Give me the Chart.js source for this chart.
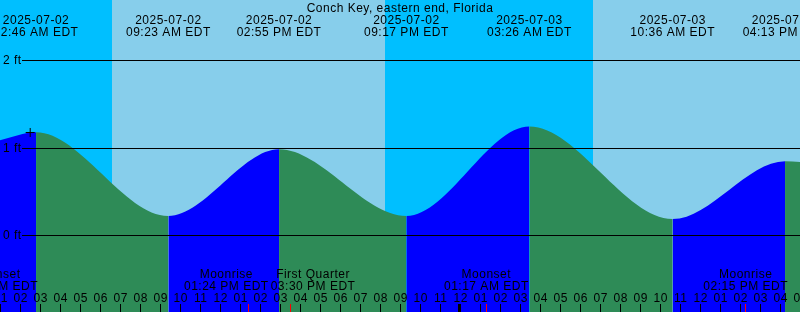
<!DOCTYPE html>
<html>
<head>
<meta charset="utf-8">
<script src="https://cdn.jsdelivr.net/npm/chart.js"></script>
<style>
  body { margin: 0; background: #fff; }
  #wrap { width: 800px; height: 312px; position: relative; }
</style>
</head>
<body>
<div id="wrap"><canvas id="tide"></canvas></div>
<script>
// hours counted from 2025-07-02 00:00 EDT
const viewStart = 0.965;
const viewEnd = 40.965;

// tide curve: window edges + highs and lows (ft)
const curveTimes = [0.965, 2.767, 9.383, 14.917, 21.283, 27.433, 34.6, 40.217, 40.965];
const curveHeights = [1.09, 1.18, 0.225, 0.985, 0.225, 1.245, 0.19, 0.85, 0.84];

// labels of the highs and lows (same order as curveTimes[1..7])
const extremeTimes = [2.767, 9.383, 14.917, 21.283, 27.433, 34.6, 40.217];
const extremeDates = ["2025-07-02", "2025-07-02", "2025-07-02", "2025-07-02", "2025-07-03", "2025-07-03", "2025-07-03"];
const extremeClocks = ["02:46 AM EDT", "09:23 AM EDT", "02:55 PM EDT", "09:17 PM EDT", "03:26 AM EDT", "10:36 AM EDT", "04:13 PM EDT"];

// sun
const sunriseTimes = [6.55, 30.6];
const sunsetTimes = [20.215];

// moon
const moonTimes = [0.75, 13.4, 15.5, 25.283, 38.25];
const moonNames = ["Moonset", "Moonrise", "First Quarter", "Moonset", "Moonrise"];
const moonClocks = ["12:45 AM EDT", "01:24 PM EDT", "03:30 PM EDT", "01:17 AM EDT", "02:15 PM EDT"];

// marker on the curve
const markTimes = [2.475];
const markHeights = [1.177];

const heightTicks = [0, 1, 2];
const midnights = [24];

const NIGHT = "#00bfff";
const DAY = "#87ceeb";
const RISING = "#0000ff";
const FALLING = "#2e8b57";
const FONT = '12px "Liberation Sans", Arial, sans-serif';

function setFont(ctx) {
  ctx.font = FONT;
  ctx.letterSpacing = "0.5px";
  ctx.fillStyle = "#000";
}

function hourLabel(h) {
  let v = h % 12;
  if (v === 0) v = 12;
  return String(v).padStart(2, "0");
}

const skyPlugin = {
  id: "sky",
  beforeDatasetsDraw(chart) {
    const { ctx, chartArea, scales } = chart;
    const x = scales.x;
    ctx.save();
    ctx.fillStyle = NIGHT;
    ctx.fillRect(chartArea.left, chartArea.top, chartArea.width, chartArea.height);
    ctx.fillStyle = DAY;
    sunriseTimes.forEach((rise, i) => {
      const set = i < sunsetTimes.length ? sunsetTimes[i] : viewEnd;
      const x0 = Math.round(x.getPixelForValue(rise));
      const x1 = Math.round(x.getPixelForValue(set));
      ctx.fillRect(x0, chartArea.top, x1 - x0, chartArea.height);
    });
    ctx.restore();
  },
};

const overlayPlugin = {
  id: "overlay",
  afterDatasetsDraw(chart) {
    const { ctx, chartArea, scales } = chart;
    const x = scales.x;
    const y = scales.y;
    ctx.save();

    // height lines
    ctx.strokeStyle = "#000";
    ctx.lineWidth = 1;
    setFont(ctx);
    heightTicks.forEach((v) => {
      const py = Math.floor(y.getPixelForValue(v)) + 0.5;
      ctx.beginPath();
      ctx.moveTo(22, py);
      ctx.lineTo(chartArea.right, py);
      ctx.stroke();
      ctx.textAlign = "left";
      ctx.textBaseline = "middle";
      ctx.fillText(v + " ft", 3, py);
    });

    // title + high/low labels
    ctx.textBaseline = "alphabetic";
    ctx.textAlign = "center";
    ctx.fillText("Conch Key, eastern end, Florida", 400, 12);
    extremeTimes.forEach((t, i) => {
      const px = x.getPixelForValue(t);
      ctx.fillText(extremeDates[i], px, 24);
      ctx.fillText(extremeClocks[i], px, 36);
    });

    // moon labels, pushed apart where they overlap
    const mx = moonTimes.map((t) => x.getPixelForValue(t));
    const mw = moonNames.map((n, i) =>
      Math.max(ctx.measureText(n).width, ctx.measureText(moonClocks[i]).width));
    for (let i = 1; i < mx.length; i++) {
      const overlap = mx[i - 1] + mw[i - 1] / 2 + 2 - (mx[i] - mw[i] / 2);
      if (overlap > 0) {
        mx[i - 1] -= overlap / 2;
        mx[i] += overlap / 2;
      }
    }
    mx.forEach((px, i) => {
      ctx.fillText(moonNames[i], px, 278);
      ctx.fillText(moonClocks[i], px, 290);
    });

    // hour ticks and labels
    for (let h = Math.floor(viewStart); h <= Math.ceil(viewEnd); h++) {
      const px = x.getPixelForValue(h);
      ctx.fillText(hourLabel(h), px, 302);
      const cx = Math.floor(px) + 0.5;
      ctx.beginPath();
      ctx.moveTo(cx, 304);
      ctx.lineTo(cx, 312);
      ctx.stroke();
    }
    midnights.forEach((t) => {
      const cx = Math.floor(x.getPixelForValue(t)) - 0.5;
      ctx.lineWidth = 3;
      ctx.beginPath();
      ctx.moveTo(cx, 304);
      ctx.lineTo(cx, 312);
      ctx.stroke();
    });
    ctx.lineWidth = 1;
    ctx.strokeStyle = "#ff0000";
    moonTimes.forEach((t) => {
      const cx = Math.floor(x.getPixelForValue(t)) + 0.5;
      ctx.beginPath();
      ctx.moveTo(cx, 304);
      ctx.lineTo(cx, 312);
      ctx.stroke();
    });

    ctx.restore();
  },
};

new Chart(document.getElementById("tide"), {
  type: "line",
  data: {
    datasets: [
      {
        label: "mark",
        data: markTimes.map((t, i) => ({ x: t, y: markHeights[i] })),
        showLine: false,
        pointStyle: "cross",
        pointRadius: 4.5,
        pointBorderWidth: 1,
        pointBorderColor: "#000",
        order: 0,
      },
      {
        label: "tide",
        data: curveTimes.map((t, i) => ({ x: t, y: curveHeights[i] })),
        fill: "start",
        borderWidth: 0,
        borderColor: "rgba(0,0,0,0)",
        backgroundColor: FALLING,
        pointRadius: 0,
        cubicInterpolationMode: "monotone",
        segment: {
          backgroundColor: (c) => (c.p1.parsed.y > c.p0.parsed.y ? RISING : FALLING),
        },
        order: 1,
      },
    ],
  },
  options: {
    responsive: true,
    maintainAspectRatio: false,
    animation: false,
    events: [],
    layout: { padding: 0, autoPadding: false },
    plugins: {
      legend: { display: false },
      title: { display: false },
      tooltip: { enabled: false },
    },
    scales: {
      x: { type: "linear", min: viewStart, max: viewEnd, display: false },
      y: { type: "linear", min: -0.87, max: 2.688, display: false },
    },
  },
  plugins: [skyPlugin, overlayPlugin],
});
</script>
</body>
</html>
